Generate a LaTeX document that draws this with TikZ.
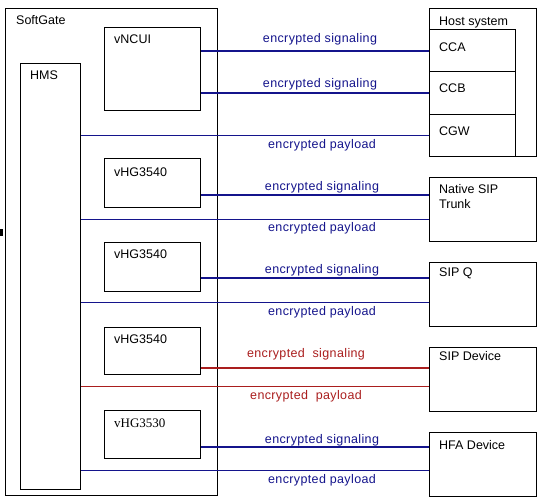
\documentclass[tikz,border=0pt]{standalone}
\usepackage{fontspec}
\setmainfont{Liberation Sans}
\newfontfamily\serifface{Liberation Serif}
\newfontfamily\lblface[LetterSpace=3]{Liberation Sans}
\definecolor{navy}{RGB}{20,20,140}
\definecolor{dred}{RGB}{170,30,30}
\begin{document}
\begin{tikzpicture}[x=1pt,y=-1pt,
  box/.style={draw=black,line width=0.9pt},
  txt/.style={anchor=base west,inner sep=0pt,font=\fontsize{12.5}{14}\selectfont},
  lbl/.style={anchor=base,inner sep=0pt,font=\lblface\fontsize{12.5}{14}\selectfont,text=navy},
  rlbl/.style={anchor=base,inner sep=0pt,font=\lblface\fontsize{12.5}{14}\selectfont,text=dred},
  sig/.style={draw=navy,line width=2pt},
  pay/.style={draw=navy,line width=0.9pt},
  rsig/.style={draw=dred,line width=2pt},
  rpay/.style={draw=dred,line width=0.9pt}]
\useasboundingbox (0,0) rectangle (542,502);
\fill[white] (0,0) rectangle (542,502);
\fill[black] (0,229) rectangle (2.5,236);
% SoftGate
\draw[box] (5,8) rectangle (217,495);
\node[txt] (sgt) at (16,25) {SoftGate};
\node[box,inner sep=0pt,minimum width=60pt,minimum height=426pt,anchor=north west] (hms) at (20,63) {};
\node[txt] at (30,80) {HMS};
\node[box,inner sep=0pt,minimum width=96pt,minimum height=83pt,anchor=north west] (ncui) at (104,27) {};
\node[txt] at (114,44) {vNCUI};
\node[box,inner sep=0pt,minimum width=96pt,minimum height=49pt,anchor=north west] (hg1) at (104,158) {};
\node[txt] at (114,177) {vHG3540};
\node[box,inner sep=0pt,minimum width=96pt,minimum height=49pt,anchor=north west] (hg2) at (104,242) {};
\node[txt] at (114,259) {vHG3540};
\node[box,inner sep=0pt,minimum width=96pt,minimum height=47pt,anchor=north west] (hg3) at (104,327) {};
\node[txt] at (114,344) {vHG3540};
\node[box,inner sep=0pt,minimum width=96pt,minimum height=48pt,anchor=north west] (hg4) at (104,410) {};
\node[txt,font=\serifface\fontsize{13}{14}\selectfont] at (114,428) {vHG3530};
% Host system
\draw[box] (429,8) rectangle (536,156);
\node[txt] at (439,26) {Host system};
\node[box,inner sep=0pt,minimum width=86pt,minimum height=42pt,anchor=north west] (cca) at (429,29) {};
\node[txt] at (439,52) {CCA};
\node[box,inner sep=0pt,minimum width=86pt,minimum height=43pt,anchor=north west] (ccb) at (429,71) {};
\node[txt] at (439,93) {CCB};
\node[box,inner sep=0pt,minimum width=86pt,minimum height=42pt,anchor=north west] (cgw) at (429,114) {};
\node[txt] at (439,136) {CGW};
\node[box,inner sep=0pt,minimum width=107pt,minimum height=64pt,anchor=north west] (nst) at (429,177) {};
\node[txt] at (439,194) {Native SIP};
\node[txt] at (439,209) {Trunk};
\node[box,inner sep=0pt,minimum width=107pt,minimum height=64pt,anchor=north west] (sipq) at (429,262) {};
\node[txt] at (439,277) {SIP Q};
\node[box,inner sep=0pt,minimum width=107pt,minimum height=64pt,anchor=north west] (sipd) at (429,347) {};
\node[txt] at (439,361) {SIP Device};
\node[box,inner sep=0pt,minimum width=107pt,minimum height=64pt,anchor=north west] (hfa) at (429,432) {};
\node[txt] at (439,450) {HFA Device};
% connectors
\draw[sig] (ncui.east |- 0,51) -- (cca.west |- 0,51);
\draw[sig] (ncui.east |- 0,93) -- (ccb.west |- 0,93);
\draw[pay] (hms.east |- 0,135) -- (cgw.west |- 0,135);
\draw[sig] (hg1.east |- 0,195) -- (nst.west |- 0,195);
\draw[pay] (hms.east |- 0,219) -- (nst.west |- 0,219);
\draw[sig] (hg2.east |- 0,278) -- (sipq.west |- 0,278);
\draw[pay] (hms.east |- 0,302) -- (sipq.west |- 0,302);
\draw[rsig] (hg3.east |- 0,368) -- (sipd.west |- 0,368);
\draw[rpay] (hms.east |- 0,386) -- (sipd.west |- 0,386);
\draw[sig] (hg4.east |- 0,447) -- (hfa.west |- 0,447);
\draw[pay] (hms.east |- 0,470) -- (hfa.west |- 0,470);
% labels
\node[lbl] at (320,43) {encrypted signaling};
\node[lbl] at (320,88) {encrypted signaling};
\node[lbl] at (322,149) {encrypted payload};
\node[lbl] at (322,191) {encrypted signaling};
\node[lbl] at (322,232) {encrypted payload};
\node[lbl] at (322,274) {encrypted signaling};
\node[lbl] at (322,316) {encrypted payload};
\node[rlbl] at (306,358) {encrypted\ \ signaling};
\node[rlbl] at (306,400) {encrypted\ \ payload};
\node[lbl] at (322,444) {encrypted signaling};
\node[lbl] at (322,484) {encrypted payload};
\end{tikzpicture}
\end{document}
